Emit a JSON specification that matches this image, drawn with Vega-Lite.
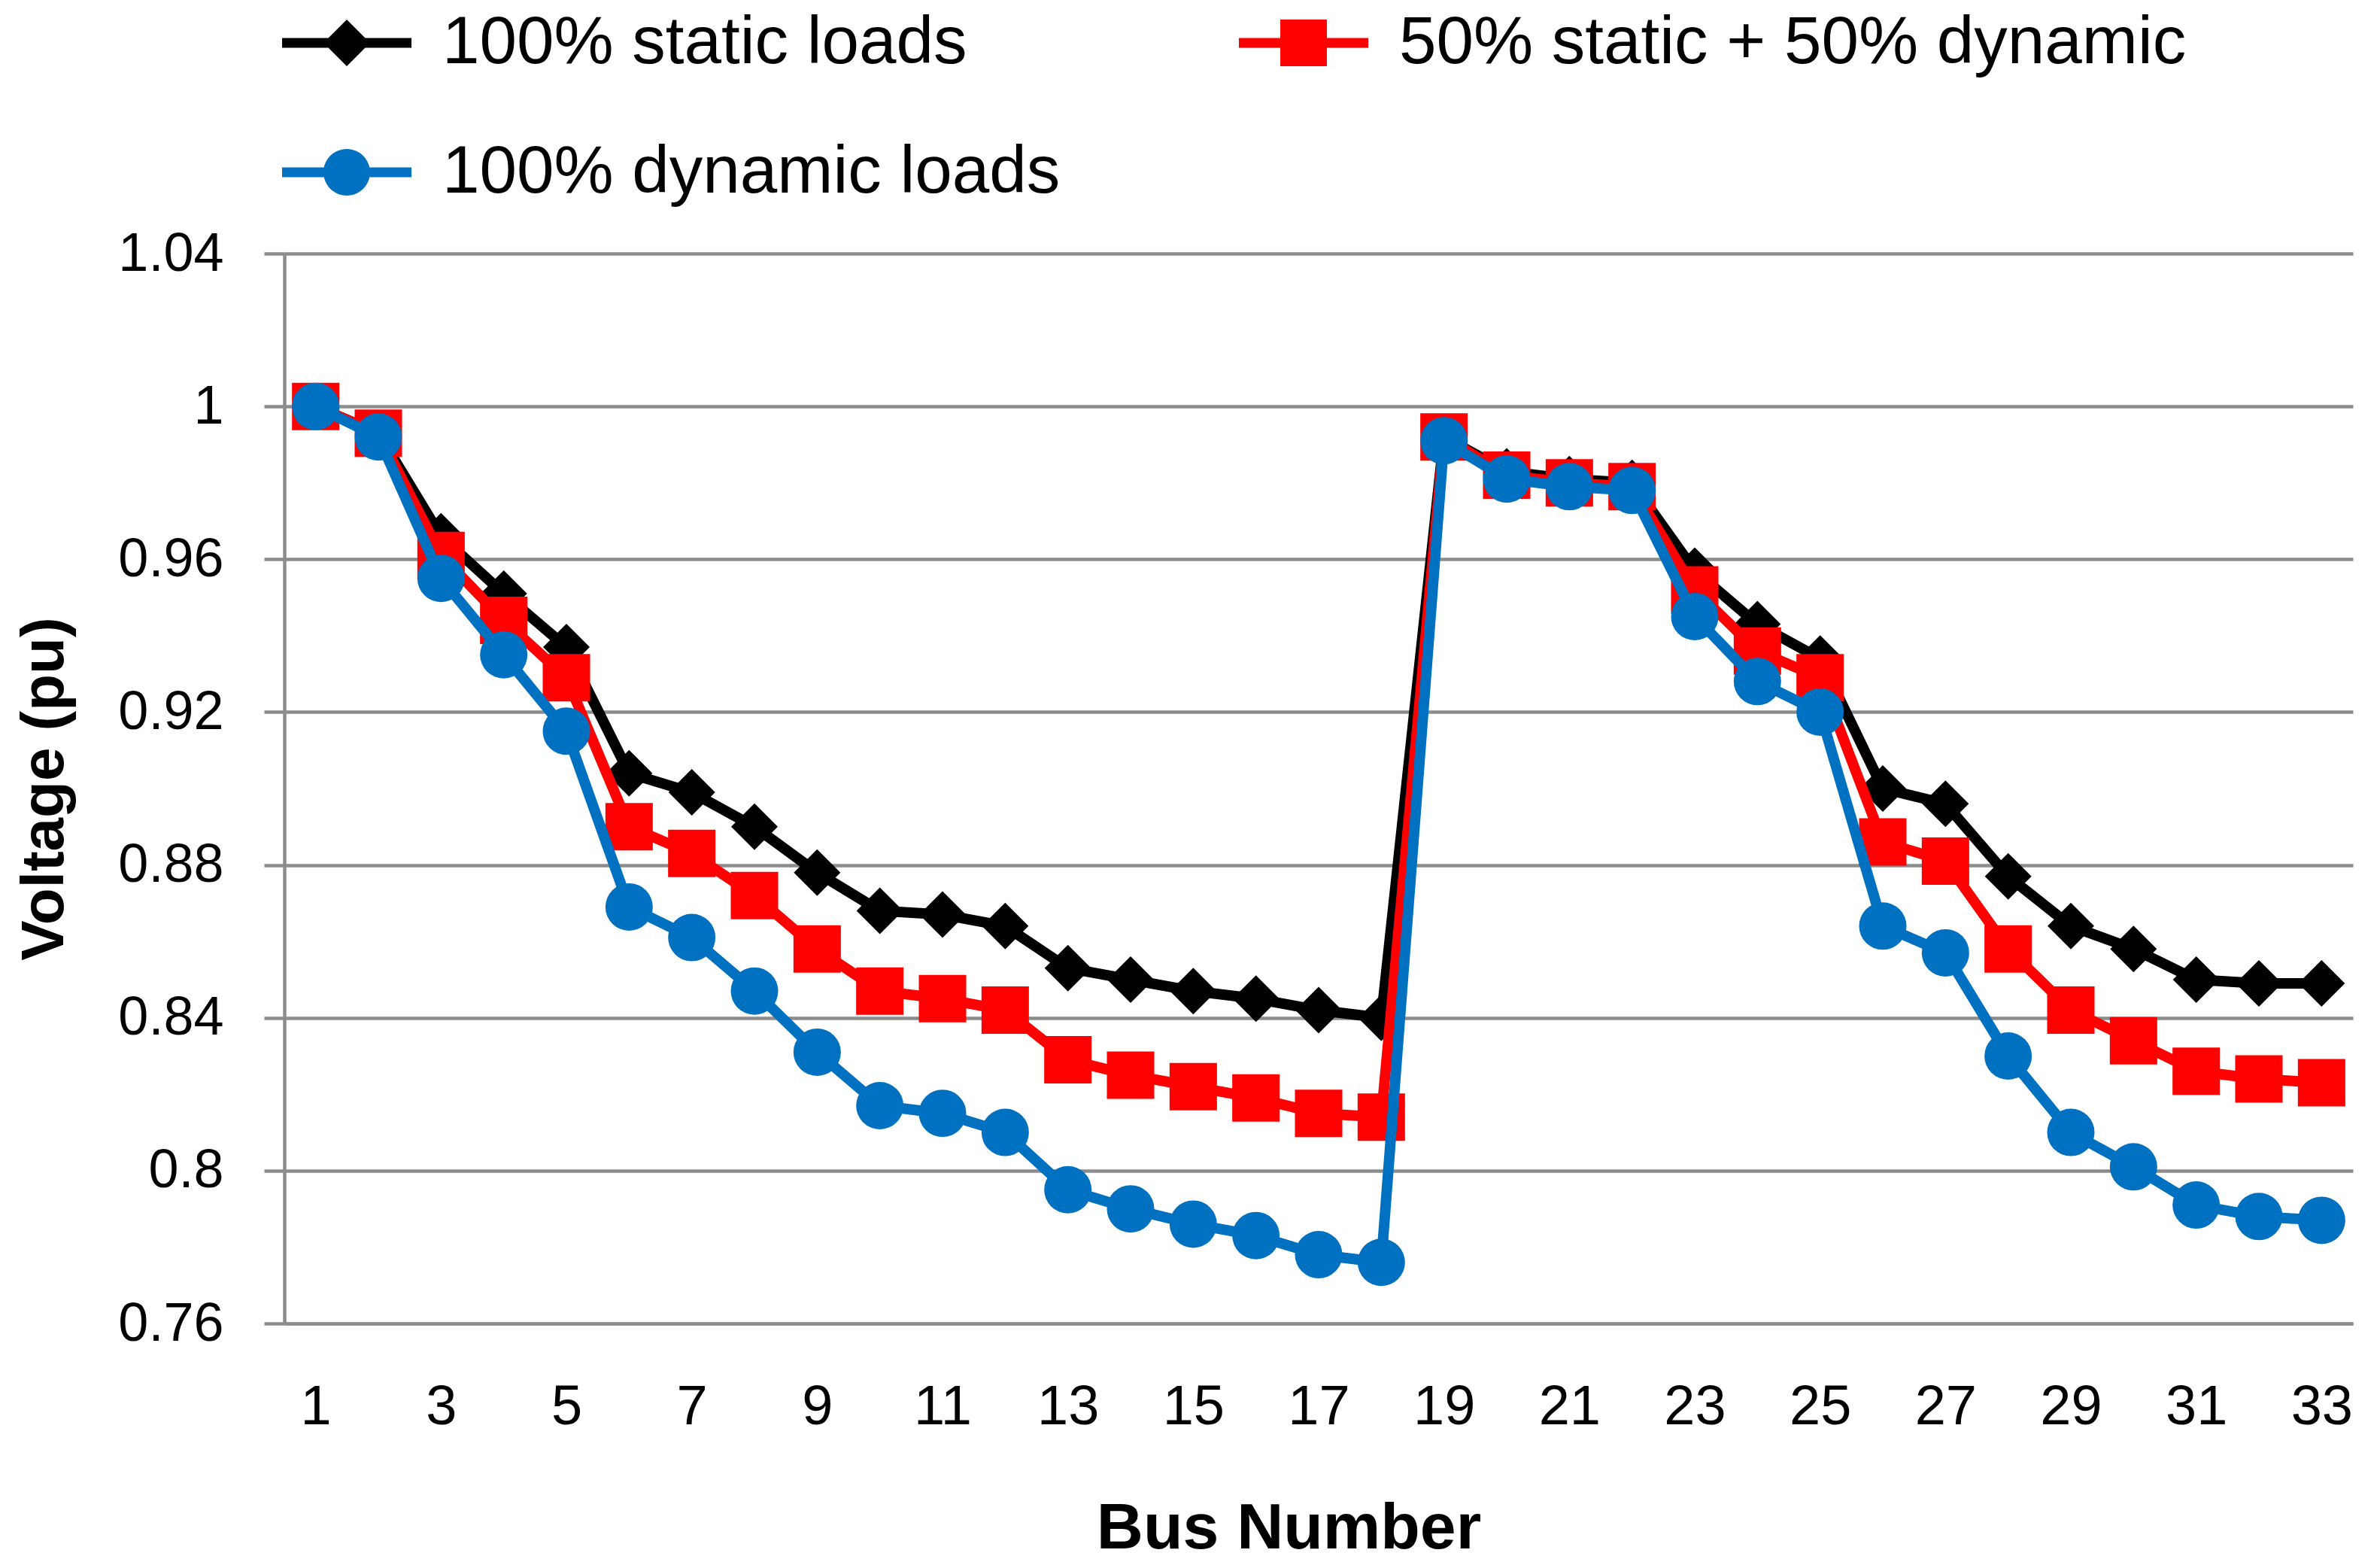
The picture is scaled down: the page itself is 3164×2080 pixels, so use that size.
{
  "$schema": "https://vega.github.io/schema/vega-lite/v6.json",
  "width": 2750,
  "height": 1422,
  "autosize": {"type": "none"},
  "padding": {"left": 378, "top": 337, "right": 36, "bottom": 321},
  "background": "white",
  "config": {"view": {"stroke": null}, "font": "Liberation Sans"},
  "data": {
    "values": [
      {"bus": 1, "series": "100% static loads", "voltage": 1.0},
      {"bus": 2, "series": "100% static loads", "voltage": 0.993},
      {"bus": 3, "series": "100% static loads", "voltage": 0.966},
      {"bus": 4, "series": "100% static loads", "voltage": 0.951},
      {"bus": 5, "series": "100% static loads", "voltage": 0.937},
      {"bus": 6, "series": "100% static loads", "voltage": 0.904},
      {"bus": 7, "series": "100% static loads", "voltage": 0.899},
      {"bus": 8, "series": "100% static loads", "voltage": 0.890},
      {"bus": 9, "series": "100% static loads", "voltage": 0.878},
      {"bus": 10, "series": "100% static loads", "voltage": 0.868},
      {"bus": 11, "series": "100% static loads", "voltage": 0.867},
      {"bus": 12, "series": "100% static loads", "voltage": 0.864},
      {"bus": 13, "series": "100% static loads", "voltage": 0.853},
      {"bus": 14, "series": "100% static loads", "voltage": 0.850},
      {"bus": 15, "series": "100% static loads", "voltage": 0.847},
      {"bus": 16, "series": "100% static loads", "voltage": 0.845},
      {"bus": 17, "series": "100% static loads", "voltage": 0.842},
      {"bus": 18, "series": "100% static loads", "voltage": 0.840},
      {"bus": 19, "series": "100% static loads", "voltage": 0.992},
      {"bus": 20, "series": "100% static loads", "voltage": 0.983},
      {"bus": 21, "series": "100% static loads", "voltage": 0.981},
      {"bus": 22, "series": "100% static loads", "voltage": 0.980},
      {"bus": 23, "series": "100% static loads", "voltage": 0.957},
      {"bus": 24, "series": "100% static loads", "voltage": 0.943},
      {"bus": 25, "series": "100% static loads", "voltage": 0.934},
      {"bus": 26, "series": "100% static loads", "voltage": 0.900},
      {"bus": 27, "series": "100% static loads", "voltage": 0.896},
      {"bus": 28, "series": "100% static loads", "voltage": 0.877},
      {"bus": 29, "series": "100% static loads", "voltage": 0.864},
      {"bus": 30, "series": "100% static loads", "voltage": 0.858},
      {"bus": 31, "series": "100% static loads", "voltage": 0.850},
      {"bus": 32, "series": "100% static loads", "voltage": 0.849},
      {"bus": 33, "series": "100% static loads", "voltage": 0.849},
      {"bus": 1, "series": "50% static + 50% dynamic", "voltage": 1.0},
      {"bus": 2, "series": "50% static + 50% dynamic", "voltage": 0.993},
      {"bus": 3, "series": "50% static + 50% dynamic", "voltage": 0.961},
      {"bus": 4, "series": "50% static + 50% dynamic", "voltage": 0.944},
      {"bus": 5, "series": "50% static + 50% dynamic", "voltage": 0.929},
      {"bus": 6, "series": "50% static + 50% dynamic", "voltage": 0.890},
      {"bus": 7, "series": "50% static + 50% dynamic", "voltage": 0.883},
      {"bus": 8, "series": "50% static + 50% dynamic", "voltage": 0.872},
      {"bus": 9, "series": "50% static + 50% dynamic", "voltage": 0.858},
      {"bus": 10, "series": "50% static + 50% dynamic", "voltage": 0.847},
      {"bus": 11, "series": "50% static + 50% dynamic", "voltage": 0.845},
      {"bus": 12, "series": "50% static + 50% dynamic", "voltage": 0.842},
      {"bus": 13, "series": "50% static + 50% dynamic", "voltage": 0.829},
      {"bus": 14, "series": "50% static + 50% dynamic", "voltage": 0.825},
      {"bus": 15, "series": "50% static + 50% dynamic", "voltage": 0.822},
      {"bus": 16, "series": "50% static + 50% dynamic", "voltage": 0.819},
      {"bus": 17, "series": "50% static + 50% dynamic", "voltage": 0.815},
      {"bus": 18, "series": "50% static + 50% dynamic", "voltage": 0.814},
      {"bus": 19, "series": "50% static + 50% dynamic", "voltage": 0.992},
      {"bus": 20, "series": "50% static + 50% dynamic", "voltage": 0.982},
      {"bus": 21, "series": "50% static + 50% dynamic", "voltage": 0.980},
      {"bus": 22, "series": "50% static + 50% dynamic", "voltage": 0.979},
      {"bus": 23, "series": "50% static + 50% dynamic", "voltage": 0.952},
      {"bus": 24, "series": "50% static + 50% dynamic", "voltage": 0.936},
      {"bus": 25, "series": "50% static + 50% dynamic", "voltage": 0.929},
      {"bus": 26, "series": "50% static + 50% dynamic", "voltage": 0.886},
      {"bus": 27, "series": "50% static + 50% dynamic", "voltage": 0.881},
      {"bus": 28, "series": "50% static + 50% dynamic", "voltage": 0.858},
      {"bus": 29, "series": "50% static + 50% dynamic", "voltage": 0.842},
      {"bus": 30, "series": "50% static + 50% dynamic", "voltage": 0.834},
      {"bus": 31, "series": "50% static + 50% dynamic", "voltage": 0.826},
      {"bus": 32, "series": "50% static + 50% dynamic", "voltage": 0.824},
      {"bus": 33, "series": "50% static + 50% dynamic", "voltage": 0.823},
      {"bus": 1, "series": "100% dynamic loads", "voltage": 1.0},
      {"bus": 2, "series": "100% dynamic loads", "voltage": 0.992},
      {"bus": 3, "series": "100% dynamic loads", "voltage": 0.955},
      {"bus": 4, "series": "100% dynamic loads", "voltage": 0.935},
      {"bus": 5, "series": "100% dynamic loads", "voltage": 0.915},
      {"bus": 6, "series": "100% dynamic loads", "voltage": 0.869},
      {"bus": 7, "series": "100% dynamic loads", "voltage": 0.861},
      {"bus": 8, "series": "100% dynamic loads", "voltage": 0.847},
      {"bus": 9, "series": "100% dynamic loads", "voltage": 0.831},
      {"bus": 10, "series": "100% dynamic loads", "voltage": 0.817},
      {"bus": 11, "series": "100% dynamic loads", "voltage": 0.815},
      {"bus": 12, "series": "100% dynamic loads", "voltage": 0.810},
      {"bus": 13, "series": "100% dynamic loads", "voltage": 0.795},
      {"bus": 14, "series": "100% dynamic loads", "voltage": 0.790},
      {"bus": 15, "series": "100% dynamic loads", "voltage": 0.786},
      {"bus": 16, "series": "100% dynamic loads", "voltage": 0.783},
      {"bus": 17, "series": "100% dynamic loads", "voltage": 0.778},
      {"bus": 18, "series": "100% dynamic loads", "voltage": 0.776},
      {"bus": 19, "series": "100% dynamic loads", "voltage": 0.991},
      {"bus": 20, "series": "100% dynamic loads", "voltage": 0.981},
      {"bus": 21, "series": "100% dynamic loads", "voltage": 0.979},
      {"bus": 22, "series": "100% dynamic loads", "voltage": 0.978},
      {"bus": 23, "series": "100% dynamic loads", "voltage": 0.945},
      {"bus": 24, "series": "100% dynamic loads", "voltage": 0.928},
      {"bus": 25, "series": "100% dynamic loads", "voltage": 0.920},
      {"bus": 26, "series": "100% dynamic loads", "voltage": 0.864},
      {"bus": 27, "series": "100% dynamic loads", "voltage": 0.857},
      {"bus": 28, "series": "100% dynamic loads", "voltage": 0.830},
      {"bus": 29, "series": "100% dynamic loads", "voltage": 0.810},
      {"bus": 30, "series": "100% dynamic loads", "voltage": 0.801},
      {"bus": 31, "series": "100% dynamic loads", "voltage": 0.791},
      {"bus": 32, "series": "100% dynamic loads", "voltage": 0.788},
      {"bus": 33, "series": "100% dynamic loads", "voltage": 0.787}
    ]
  },
  "encoding": {
    "x": {
      "field": "bus",
      "type": "quantitative",
      "scale": {"domain": [0.5, 33.5], "nice": false, "zero": false},
      "axis": {
        "title": "Bus Number",
        "values": [1, 3, 5, 7, 9, 11, 13, 15, 17, 19, 21, 23, 25, 27, 29, 31, 33],
        "grid": false,
        "ticks": false,
        "tickSize": 0,
        "domain": true,
        "domainColor": "#8c8c8c",
        "domainWidth": 4,
        "labelFont": "Liberation Sans",
        "labelFontSize": 74,
        "labelColor": "black",
        "labelPadding": 75,
        "labelFlush": false,
        "labelOverlap": false,
        "titleFont": "Liberation Sans",
        "titleFontSize": 86,
        "titleFontWeight": "bold",
        "titleColor": "black",
        "titleX": 1335,
        "titleY": 298,
        "titleAlign": "center",
        "titleBaseline": "alphabetic"
      }
    },
    "y": {
      "field": "voltage",
      "type": "quantitative",
      "scale": {"domain": [0.76, 1.04], "nice": false, "zero": false},
      "axis": {
        "title": "Voltage (pu)",
        "values": [0.76, 0.8, 0.84, 0.88, 0.92, 0.96, 1, 1.04],
        "labelExpr": "'' + round(datum.value * 100) / 100",
        "grid": true,
        "gridColor": "#8c8c8c",
        "gridWidth": 4.5,
        "gridOpacity": 1,
        "ticks": true,
        "tickColor": "#8c8c8c",
        "tickWidth": 4.5,
        "tickSize": 27,
        "domainColor": "#8c8c8c",
        "domainWidth": 4.5,
        "labelFont": "Liberation Sans",
        "labelFontSize": 72,
        "labelColor": "black",
        "labelPadding": 54,
        "labelFlush": false,
        "labelOverlap": false,
        "titleFont": "Liberation Sans",
        "titleFontSize": 80,
        "titleFontWeight": "bold",
        "titleColor": "black",
        "titleAngle": -90,
        "titleX": -319,
        "titleY": 711,
        "titleAlign": "center",
        "titleBaseline": "middle"
      }
    },
    "color": {
      "field": "series",
      "type": "nominal",
      "scale": {
        "domain": ["100% static loads", "50% static + 50% dynamic", "100% dynamic loads"],
        "range": ["#000000", "#ff0000", "#0070c0"]
      },
      "legend": {
        "title": null,
        "orient": "none",
        "direction": "horizontal",
        "legendX": -3,
        "legendY": -366,
        "columns": 2,
        "columnPadding": 237,
        "rowPadding": 41,
        "padding": 0,
        "symbolSize": 29584,
        "labelOffset": 41,
        "labelFont": "Liberation Sans",
        "labelFontSize": 89,
        "labelColor": "black",
        "labelLimit": 2000,
        "encode": {
          "symbols": {
            "update": {
              "shape": {"signal": "datum.value === '100% static loads' ? 'M-1,-0.076H1V0.076H-1Z M-0.36,0L0,-0.36L0.36,0L0,0.36Z' : datum.value === '50% static + 50% dynamic' ? 'M-1,-0.076H1V0.076H-1Z M-0.36,-0.36H0.36V0.36H-0.36Z' : 'M-1,-0.076H1V0.076H-1Z M-0.36,0A0.36,0.36,0,1,1,0.36,0A0.36,0.36,0,1,1,-0.36,0Z'"},
              "fill": {"scale": "color", "field": "value"},
              "stroke": {"value": "transparent"},
              "strokeWidth": {"value": 0},
              "opacity": {"value": 1}
            }
          }
        }
      }
    }
  },
  "layer": [
    {
      "transform": [{"filter": "datum.series === '100% static loads'"}],
      "mark": {"type": "line", "strokeWidth": 14, "strokeJoin": "round", "strokeCap": "round"}
    },
    {
      "transform": [{"filter": "datum.series === '100% static loads'"}],
      "mark": {"type": "point", "shape": "diamond", "filled": true, "size": 3844, "opacity": 1, "strokeWidth": 0}
    },
    {
      "transform": [{"filter": "datum.series === '50% static + 50% dynamic'"}],
      "mark": {"type": "line", "strokeWidth": 14, "strokeJoin": "round", "strokeCap": "round"}
    },
    {
      "transform": [{"filter": "datum.series === '50% static + 50% dynamic'"}],
      "mark": {"type": "point", "shape": "square", "filled": true, "size": 3969, "opacity": 1, "strokeWidth": 0}
    },
    {
      "transform": [{"filter": "datum.series === '100% dynamic loads'"}],
      "mark": {"type": "line", "strokeWidth": 14, "strokeJoin": "round", "strokeCap": "round"}
    },
    {
      "transform": [{"filter": "datum.series === '100% dynamic loads'"}],
      "mark": {"type": "point", "shape": "circle", "filled": true, "size": 3969, "opacity": 1, "strokeWidth": 0}
    }
  ]
}
